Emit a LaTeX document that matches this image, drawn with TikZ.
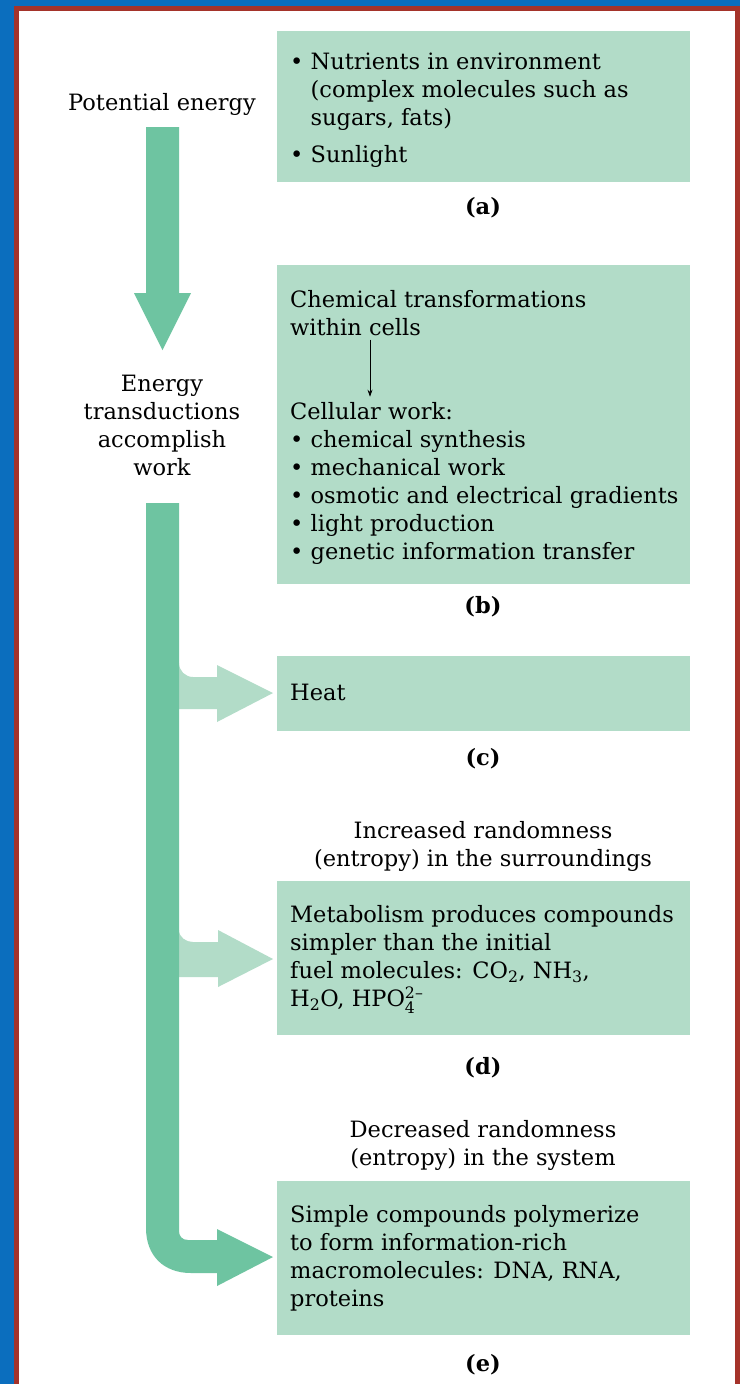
\documentclass[tikz,border=0pt]{standalone}
\usepackage{amsmath}
\usepackage{fontspec}
\setmainfont{DejaVu Serif}
\usetikzlibrary{arrows.meta}
\definecolor{panelgreen}{HTML}{B2DCC8}
\definecolor{flowgreen}{HTML}{6EC4A1}
\definecolor{frameblue}{HTML}{0B6EBE}
\definecolor{framered}{HTML}{A5332A}
\newcommand{\itm}{\textbullet\ }
\newcommand{\hang}{\phantom{\textbullet\ }}

\begin{document}
\begin{tikzpicture}[x=1pt,y=-1pt,
  every node/.style={font=\fontsize{22.5}{28}\selectfont, inner sep=0pt},
  panel/.style={fill=panelgreen, anchor=north west, minimum width=413pt},
  boxtext/.style={anchor=base west, align=left},
  sidetext/.style={anchor=base, align=center},
  partname/.style={anchor=base, font=\fontsize{22.5}{28}\selectfont\bfseries}]
  \useasboundingbox (0,0) rectangle (740,1384);
  \fill[frameblue] (0,0) rectangle (740,1384);
  \fill[framered] (14,6) rectangle (740,1384);
  \fill[white] (19,11) rectangle (735,1384);

  \node[panel, minimum height=151pt] (boxa) at (277,31) {};
  \node[panel, minimum height=319pt] (boxb) at (277,265) {};
  \node[panel, minimum height=75pt] (boxc) at (277,656) {};
  \node[panel, minimum height=154pt] (boxd) at (277,881) {};
  \node[panel, minimum height=154pt] (boxe) at (277,1181) {};

  % base = last line of each block
  \node[boxtext] (nutr) at (290,162) {\itm Nutrients in environment\\
    \hang(complex molecules such as\\ \hang sugars, fats)\\[9pt] \itm Sunlight};
  \node[boxtext] (chem) at (290,335) {Chemical transformations\\ within cells};
  \node[boxtext] (cell) at (290,559) {Cellular work:\\ \itm chemical synthesis\\
    \itm mechanical work\\ \itm osmotic and electrical gradients\\
    \itm light production\\ \itm genetic information transfer};
  \node[boxtext] (heat) at (290,700) {Heat};
  \node[boxtext] (simpler) at (290,1006) {Metabolism produces compounds\\
    simpler than the initial\\ fuel molecules: CO\textsubscript{2}, NH\textsubscript{3},\\
    H\textsubscript{2}O, HPO\ensuremath{_{\text{4}}^{\text{2--}}}};
  \node[boxtext] (polymer) at (290,1306) {Simple compounds polymerize\\
    to form information-rich\\ macromolecules: DNA, RNA,\\ proteins};

  \node[sidetext] (potential) at (162,110) {Potential energy};
  \node[sidetext] (transd) at (162,475) {Energy\\ transductions\\ accomplish\\ work};
  \node[sidetext] (incr) at (483,866) {Increased randomness\\ (entropy) in the surroundings};
  \node[sidetext] (decr) at (483,1165) {Decreased randomness\\ (entropy) in the system};

  \node[partname] (a) at (483,214) {(a)};
  \node[partname] (b) at (483,613) {(b)};
  \node[partname] (c) at (483,765) {(c)};
  \node[partname] (d) at (483,1074) {(d)};
  \node[partname] (e) at (483,1371) {(e)};

  \coordinate (ax) at (370,0);
  \path (chem.south -| ax) edge[-{Stealth[length=7pt,width=5pt]}, line width=0.8pt,
    shorten <=4pt, shorten >=5pt] (cell.north -| ax);

  % side arrows
  \fill[panelgreen] (179,663) to[out=-90,in=180] (193,677) -- (217,677) -- (217,665)
    -- (273,693) -- (217,722) -- (217,709) -- (179,709) -- cycle;
  \fill[panelgreen] (179,930) to[out=-90,in=180] (193,942) -- (218,942) -- (218,930)
    -- (273,959) -- (218,987) -- (218,977) -- (179,977) -- cycle;

  % main arrows
  \fill[flowgreen] (146,127) -- (179,127) -- (179,293) -- (191,293) -- (162.5,350)
    -- (134,293) -- (146,293) -- cycle;
  \fill[flowgreen] (146,503) -- (179,503) -- (179,1231)
    .. controls (179,1236) and (182,1240) .. (188,1240)
    -- (217,1240) -- (217,1229) -- (273,1257) -- (217,1286) -- (217,1273)
    -- (191,1273) .. controls (164,1273) and (146,1256) .. (146,1228) -- cycle;
\end{tikzpicture}
\end{document}
